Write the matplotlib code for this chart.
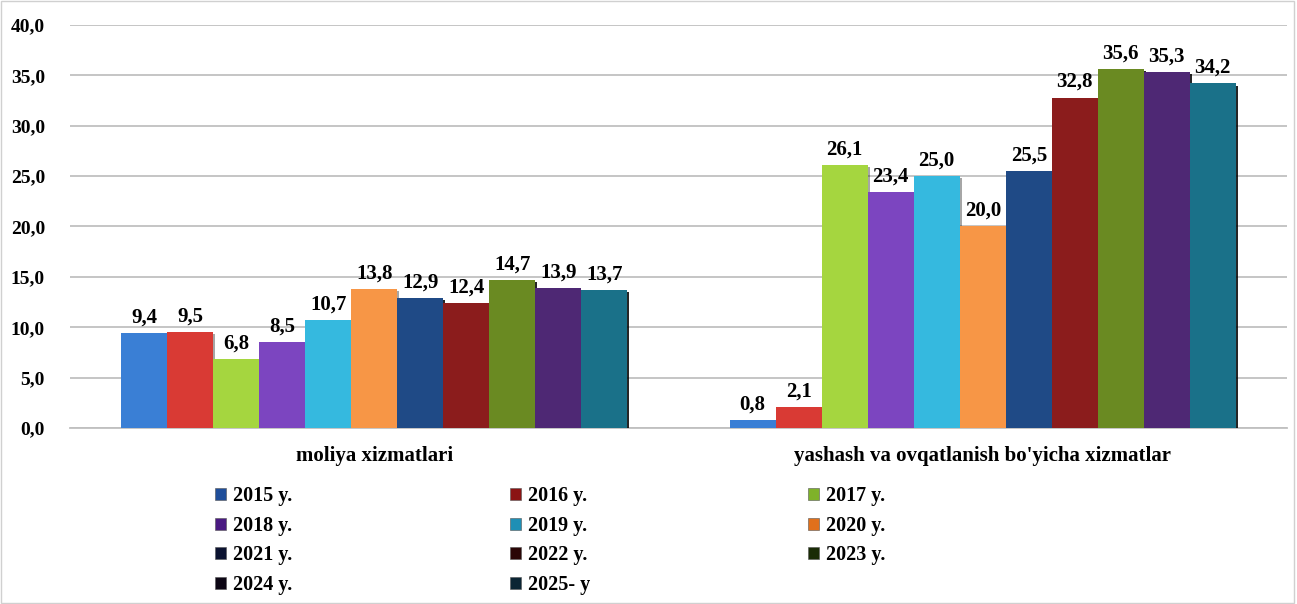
import matplotlib.pyplot as plt
import matplotlib.patheffects as pe
from matplotlib.patches import Rectangle, Patch
import numpy as np

plt.rcParams['font.family'] = ['Liberation Serif', 'DejaVu Serif']
plt.rcParams['font.weight'] = 'bold'

# -----------------------------
# DATA
# -----------------------------
categories = ["moliya xizmatlari", "yashash va ovqatlanish bo'yicha xizmatlar"]
years = ["2015 y.", "2016 y.", "2017 y.", "2018 y.", "2019 y.", "2020 y.",
         "2021 y.", "2022 y.", "2023 y.", "2024 y.", "2025- y"]
moliya = [9.4, 9.5, 6.8, 8.5, 10.7, 13.8, 12.9, 12.4, 14.7, 13.9, 13.7]
yashash = [0.8, 2.1, 26.1, 23.4, 25.0, 20.0, 25.5, 32.8, 35.6, 35.3, 34.2]

bar_colors = ["#3a7fd5", "#d93a34", "#a5d63f", "#7c45c0", "#35b9df", "#f79646",
              "#1f4a86", "#8b1c1c", "#6a8a22", "#4e2874", "#1a7189"]
legend_colors = ["#1f4e9a", "#8b1414", "#7fb22a", "#4a1a82", "#1f8fb5", "#e0701c",
                 "#0b1230", "#2a0606", "#1a2c06", "#0c0614", "#0b2534"]

values = np.array([moliya, yashash])  # rows = categories, cols = years

# -----------------------------
# PLOT
# -----------------------------
fig = plt.figure(figsize=(12.97, 6.04), dpi=100)
ax = fig.add_axes([70 / 1297, 176 / 604, 1217 / 1297, 403 / 604])

x = np.arange(len(categories))
n = len(years)
bar_width = 0.0756

for i, year in enumerate(years):
    offs = (i - (n - 1) / 2) * bar_width
    shadow_alpha = 0.35 if i < 6 else 0.85
    bars = ax.bar(x + offs, values[:, i], bar_width, color=bar_colors[i],
                  zorder=3, linewidth=0)
    for b in bars:
        b.set_path_effects([
            pe.SimplePatchShadow(offset=(1.5, -1.5), shadow_rgbFace="black",
                                 alpha=shadow_alpha),
            pe.Normal(),
        ])
    for j, b in enumerate(bars):
        v = values[j, i]
        ax.annotate(f"{v:.1f}".replace(".", ","),
                    (b.get_x() + b.get_width() / 2, b.get_height()),
                    xytext=(0, 4), textcoords="offset points",
                    ha="center", va="bottom", fontsize=15,
                    fontweight="bold", zorder=5)

ax.set_xlim(-0.5, 1.5)
ax.set_ylim(0, 40)
ax.set_yticks(np.arange(0, 41, 5))
ax.set_yticklabels([f"{t:.1f}".replace(".", ",") for t in np.arange(0, 41, 5)],
                   fontsize=14, fontweight="bold")
ax.set_xticks(x)
ax.set_xticklabels(categories, fontsize=15, fontweight="bold")
ax.tick_params(axis="y", length=0, pad=18)
ax.tick_params(axis="x", length=0, pad=13)

ax.grid(axis="y", color="#c0c0c0", linewidth=1.3, zorder=0)
ax.set_axisbelow(True)
for side in ["top", "right", "left"]:
    ax.spines[side].set_visible(False)
ax.spines["bottom"].set_color("#c0c0c0")
ax.spines["bottom"].set_linewidth(1.3)

# legend: row-major order in 3 columns
order = [0, 3, 6, 9, 1, 4, 7, 10, 2, 5, 8]
handles = [Patch(facecolor=legend_colors[k], edgecolor="#555555", linewidth=0.4)
           for k in order]
labels = [years[k] for k in order]
fig.legend(handles, labels, loc="upper left",
           bbox_to_anchor=(205 / 1297, (604 - 476) / 604),
           ncol=3, frameon=False, borderpad=0,
           handlelength=0.55, handleheight=0.55, handletextpad=0.35,
           columnspacing=10.8, labelspacing=0.48,
           prop={"size": 14.5, "weight": "bold"})

# light outer border
fig.patches.append(Rectangle((0.001, 0.002), 0.997, 0.996, transform=fig.transFigure,
                             fill=False, edgecolor="#d0d0d0", linewidth=1))

plt.savefig("out.png", dpi=100)
plt.close()
